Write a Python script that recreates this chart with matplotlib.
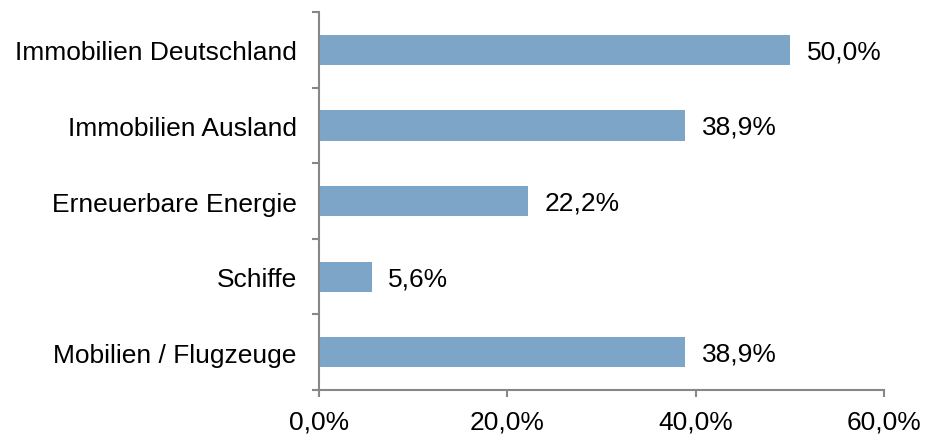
import matplotlib.pyplot as plt
from matplotlib.ticker import FuncFormatter

# Anteile je Segment (in %)
categories = ['Immobilien Deutschland', 'Immobilien Ausland', 'Erneuerbare Energie',
              'Schiffe', 'Mobilien / Flugzeuge']
values = [50.0, 38.9, 22.2, 5.6, 38.9]
xticks = [0, 20, 40, 60]

plt.rcParams['font.family'] = ['Liberation Sans', 'DejaVu Sans']

fig = plt.figure(figsize=(9.38, 4.35), dpi=100)
ax = fig.add_axes([0.340, 0.101, 0.6025, 0.869])

bar_color = '#7DA5C8'
axis_color = '#878787'

ypos = list(range(len(categories)))[::-1]
ax.barh(ypos, values, height=0.4, color=bar_color)

# Wertbeschriftungen rechts neben den Balken
for y, v in zip(ypos, values):
    ax.annotate(f'{v:.1f}%'.replace('.', ','), xy=(v, y), xytext=(12, -1),
                textcoords='offset points', va='center', ha='left', fontsize=19)

ax.set_xlim(0, 60)
ax.set_ylim(-0.5, len(categories) - 0.5)
ax.set_xticks(xticks)
ax.xaxis.set_major_formatter(FuncFormatter(lambda x, _: f'{x:.1f}%'.replace('.', ',')))

ax.set_yticks(ypos)
ax.set_yticklabels(categories)
ax.set_yticks([i - 0.5 for i in range(len(categories) + 1)], minor=True)
ax.tick_params(axis='y', which='major', length=0, pad=16, labelsize=19)
ax.tick_params(axis='y', which='minor', length=5, width=1.5, color=axis_color)
ax.tick_params(axis='x', length=5, width=1.5, color=axis_color, pad=9, labelsize=19)

for side in ['top', 'right']:
    ax.spines[side].set_visible(False)
for side in ['left', 'bottom']:
    ax.spines[side].set_color(axis_color)
    ax.spines[side].set_linewidth(1.5)

plt.savefig('out.png', dpi=100)
